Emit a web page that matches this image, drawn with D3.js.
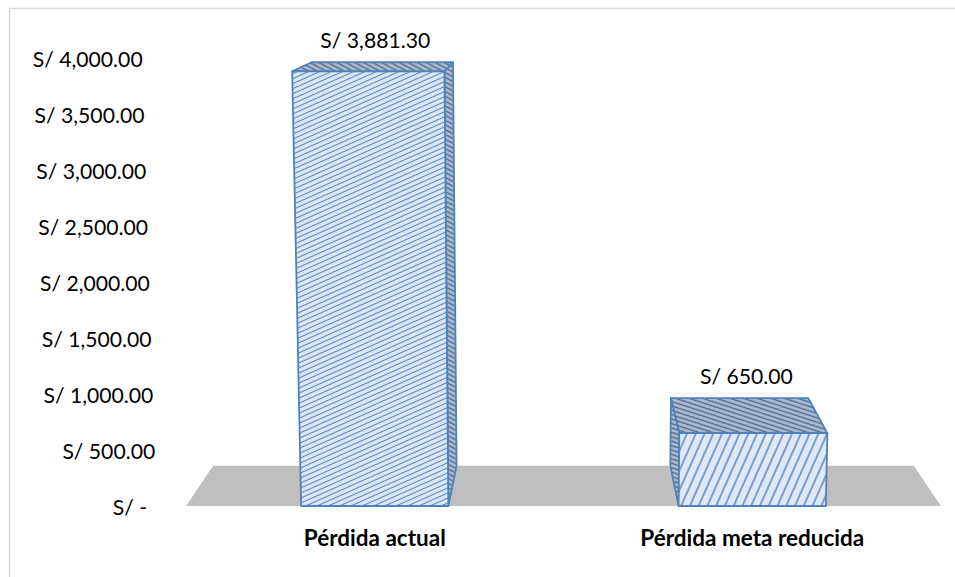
<!DOCTYPE html>
<html><head><meta charset="utf-8">
<script src="https://cdn.jsdelivr.net/npm/d3@7"></script>
<style>html,body{margin:0;padding:0;background:#fff;overflow:hidden}</style>
</head><body><svg id="c" width="955" height="577"></svg>
<script>
const categories = ["Pérdida actual", "Pérdida meta reducida"];
const values = [3881.30, 650.00];
const valueLabels = ["S/ 3,881.30", "S/ 650.00"];
const tickValues = [0, 500, 1000, 1500, 2000, 2500, 3000, 3500, 4000];
const tickLabels = ["S/ -", "S/ 500.00", "S/ 1,000.00", "S/ 1,500.00", "S/ 2,000.00",
                    "S/ 2,500.00", "S/ 3,000.00", "S/ 3,500.00", "S/ 4,000.00"];

const W = 955, H = 577;
const FONT = "Lato, 'Open Sans', sans-serif";
const svg = d3.select("#c");
svg.append("rect").attr("width", W).attr("height", H).attr("fill", "#fff");
svg.append("rect").attr("x", 9.5).attr("y", 8.5).attr("width", 1000).attr("height", 1000)
  .attr("fill", "none").attr("stroke", "#d9d9d9").attr("stroke-width", 1.5);

// measure helper to calibrate font sizes
function fitSize(text, weight, target) {
  const t = svg.append("text").attr("font-family", FONT).attr("font-weight", weight)
    .attr("font-size", 100).text(text);
  const len = t.node().getComputedTextLength();
  t.remove();
  return target / len * 100;
}
const regSize = fitSize("S/ 4,000.00", "normal", 110);
const boldSize = fitSize("Pérdida actual", "bold", 142);

const floorY = 506;
const y = d3.scaleLinear().domain([0, 4000]).range([floorY, 58]);
const x = d3.scaleBand().domain(categories).range([186, 941]).paddingInner(0.61).paddingOuter(0.305);

// perspective helpers
const VP = [563, -54], DEPTH = 0.072, XC = 563, DV = 12700;
function proj(px, py, d) {
  const h = floorY - py;
  const xl = XC + (px - XC) * (1 + h / DV);
  const t = d * DEPTH;
  return [xl + t * (VP[0] - xl), py + t * (VP[1] - py)];
}
const line = d3.line();

// patterns
const defs = svg.append("defs");
function makePattern(id, angle, spacing, bg, stroke, lw) {
  const p = defs.append("pattern").attr("id", id).attr("patternUnits", "userSpaceOnUse")
    .attr("width", spacing).attr("height", spacing)
    .attr("patternTransform", `rotate(${angle})`);
  p.append("rect").attr("width", spacing).attr("height", spacing).attr("fill", bg);
  p.append("line").attr("x1", -1).attr("x2", spacing + 1).attr("y1", spacing / 2).attr("y2", spacing / 2)
    .attr("stroke", stroke).attr("stroke-width", lw);
}
makePattern("front0", -24, 4.6, "#dfe8f4", "#5585c4", 1.1);
makePattern("front1", -66, 8, "#dfe8f4", "#5585c4", 1.5);
makePattern("dark0", 28, 4.2, "#aebbcc", "#476591", 1.3);
makePattern("dark1", 18, 4.2, "#aebbcc", "#476591", 1.3);

// floor
const [fx0, fx1] = x.range();
svg.append("path")
  .attr("d", line([proj(fx0, floorY, 0), proj(fx1, floorY, 0), proj(fx1, floorY, 1), proj(fx0, floorY, 1)]) + "Z")
  .attr("fill", "#bfbfbf");

// axis tick labels
const axisG = svg.append("g");
tickValues.forEach((v, i) => {
  const p = proj(157, y(v), 0);
  axisG.append("text")
    .attr("x", p[0] - (v === 0 ? 10 : 0)).attr("y", y(v) + 1)
    .attr("text-anchor", "end").attr("dominant-baseline", "central")
    .attr("font-family", FONT).attr("font-size", regSize).attr("fill", "#000")
    .text(tickLabels[i]);
});

// bars
const stroke = "#4f81bd";
const bw = x.bandwidth();
categories.forEach((c, i) => {
  const x0 = x(c), x1 = x0 + bw, yt = y(values[i]);
  const g = svg.append("g");
  const face = (pts, fill) => g.append("path").attr("d", line(pts) + "Z")
    .attr("fill", fill).attr("stroke", stroke).attr("stroke-width", 1.8).attr("stroke-linejoin", "round");
  face([proj(x0, yt, 0), proj(x1, yt, 0), proj(x1, yt, 1), proj(x0, yt, 1)], `url(#dark${i})`);
  if (x1 < VP[0]) face([proj(x1, floorY, 0), proj(x1, yt, 0), proj(x1, yt, 1), proj(x1, floorY, 1)], `url(#dark${i})`);
  if (x0 > VP[0]) face([proj(x0, floorY, 0), proj(x0, yt, 0), proj(x0, yt, 1), proj(x0, floorY, 1)], `url(#dark${i})`);
  face([proj(x0, floorY, 0), proj(x1, floorY, 0), proj(x1, yt, 0), proj(x0, yt, 0)], `url(#front${i})`);

  const fc = (proj(x0, yt, 0)[0] + proj(x1, yt, 0)[0]) / 2;
  const bc = (proj(x0, yt, 1)[0] + proj(x1, yt, 1)[0]) / 2;
  const by = proj(x0, yt, 1)[1];
  svg.append("text").attr("x", (fc + bc) / 2).attr("y", by - 22)
    .attr("text-anchor", "middle").attr("dominant-baseline", "central")
    .attr("font-family", FONT).attr("font-size", regSize).attr("fill", "#000")
    .text(valueLabels[i]);

  const cx = proj(x0 + bw / 2, floorY, 0)[0];
  svg.append("text").attr("x", cx).attr("y", floorY + 31)
    .attr("text-anchor", "middle").attr("dominant-baseline", "central")
    .attr("font-family", FONT).attr("font-weight", "bold").attr("font-size", boldSize).attr("fill", "#000")
    .text(c);
});
</script></body></html>
